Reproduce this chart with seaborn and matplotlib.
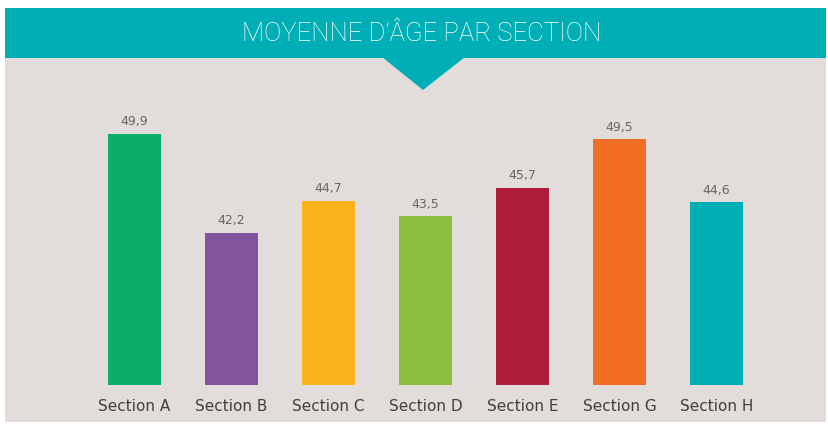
import matplotlib
matplotlib.use("Agg")
import matplotlib.pyplot as plt
import seaborn as sns
import pandas as pd
from matplotlib.patches import Rectangle, Polygon

categories = ["Section A", "Section B", "Section C", "Section D", "Section E", "Section G", "Section H"]
values = [49.9, 42.2, 44.7, 43.5, 45.7, 49.5, 44.6]
value_labels = ["49,9", "42,2", "44,7", "43,5", "45,7", "49,5", "44,6"]
colors = ["#0BAE68", "#82549C", "#FBB31B", "#8DC03F", "#B01C3C", "#F26E25", "#00AEB5"]
title = "MOYENNE D\u2019ÂGE PAR SECTION"

W, H = 829, 426
BG = "#E2DDDA"
TEAL = "#00AEB5"

sns.set_theme(style="white")
plt.rcParams["font.family"] = ["DejaVu Sans"]

fig = plt.figure(figsize=(W / 100, H / 100), dpi=100)
fig.patch.set_facecolor("white")

def fx(x): return x / W
def fy(y): return 1 - y / H

# panel background
fig.patches.append(Rectangle((fx(5), fy(422)), fx(826) - fx(5), fy(8) - fy(422),
                             transform=fig.transFigure, facecolor=BG, edgecolor="none", zorder=-10))
# banner
fig.patches.append(Rectangle((fx(5), fy(58)), fx(826) - fx(5), fy(8) - fy(58),
                             transform=fig.transFigure, facecolor=TEAL, edgecolor="none", zorder=-9))
fig.patches.append(Polygon([(fx(382), fy(57)), (fx(465), fy(57)), (fx(423), fy(90))], closed=True,
                           transform=fig.transFigure, facecolor=TEAL, edgecolor="none", zorder=-9))
fig.text(fx(422), fy(34), title, color="white", fontsize=18.5, fontweight="light",
         family=["Roboto", "DejaVu Sans"], ha="center", va="center", zorder=3)

ax = fig.add_axes([fx(86), fy(385), fx(765) - fx(86), fy(100) - fy(385)])
ax.set_facecolor("none")
ax.set_zorder(5)

df = pd.DataFrame({"section": categories, "value": values})
sns.barplot(data=df, x="section", y="value", hue="section", palette=colors,
            legend=False, width=0.546, saturation=1, linewidth=0, ax=ax)

ax.set_ylim(30.38, 30.38 + 285 / 12.857)
ax.set_xlim(-0.5, 6.5)
for i, (v, lab) in enumerate(zip(values, value_labels)):
    ax.annotate(lab, (i, v), xytext=(0, 4), textcoords="offset points",
                ha="center", va="bottom", fontsize=9, color="#666666")

ax.set_xlabel("")
ax.set_ylabel("")
ax.set_yticks([])
ax.tick_params(axis="x", length=0, pad=10, labelsize=11, labelcolor="#3f3f3f")
for s in ax.spines.values():
    s.set_visible(False)

fig.savefig("out.png", dpi=100)
